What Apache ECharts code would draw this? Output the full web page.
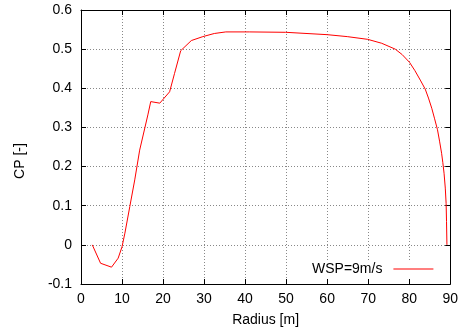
<!DOCTYPE html>
<html>
<head>
<meta charset="utf-8">
<script src="https://cdn.jsdelivr.net/npm/echarts@6/dist/echarts.min.js"></script>
<style>
  html, body { margin: 0; padding: 0; background: #fff; }
  #chart { width: 461px; height: 334px; }
</style>
</head>
<body>
<div id="chart"></div>
<script>
// Power coefficient along the blade span
const radius = [2.75, 4.77, 7.44, 9.06, 10.0, 10.7, 11.9, 13.1, 14.3, 16.3, 17.0, 19.2, 21.6, 22.8, 24.3, 26.9, 29.7, 32.5, 35.3, 41.0, 49.9, 60.0, 64.9, 69.9, 73.3, 76.6, 78.3, 80.1, 81.4, 82.7, 83.9, 84.7, 85.5, 86.2, 86.9, 87.4, 87.9, 88.2, 88.5, 88.8, 89.0, 89.1, 89.2];
const cp = [0, -0.047, -0.057, -0.034, -0.005, 0.03, 0.098, 0.166, 0.242, 0.332, 0.366, 0.362, 0.391, 0.438, 0.496, 0.522, 0.532, 0.540, 0.544, 0.544, 0.543, 0.537, 0.532, 0.525, 0.515, 0.500, 0.486, 0.466, 0.445, 0.421, 0.398, 0.375, 0.349, 0.322, 0.294, 0.265, 0.234, 0.210, 0.183, 0.145, 0.106, 0.060, 0.0];
const seriesName = 'WSP=9m/s';
const xTitle = 'Radius [m]';
const yTitle = 'CP [-]';

const FONT = "'Liberation Sans', Arial, Helvetica, sans-serif";
const points = radius.map((r, i) => [r, cp[i]]);

const gridLine = { show: true, lineStyle: { color: '#888', type: [1, 2], width: 1 } };
const frameLine = { show: true, onZero: false, lineStyle: { color: '#000', width: 1 } };
const innerTick = { show: true, inside: true, length: 5, lineStyle: { color: '#000' } };

const chart = echarts.init(document.getElementById('chart'), null, { renderer: 'canvas' });
chart.setOption({
  animation: false,
  backgroundColor: '#fff',
  grid: { left: 81, right: 9, top: 10, bottom: 50, containLabel: false },
  xAxis: [
    {
      type: 'value', position: 'bottom', min: 0, max: 90, interval: 10,
      axisLine: frameLine, axisTick: innerTick, splitLine: gridLine,
      axisLabel: { color: '#000', fontSize: 14, fontFamily: FONT, margin: 8 },
      name: xTitle, nameLocation: 'middle', nameGap: 29,
      nameTextStyle: { color: '#000', fontSize: 14, fontFamily: FONT }
    },
    {
      type: 'value', position: 'top', min: 0, max: 90, interval: 10,
      axisLine: frameLine, axisTick: innerTick, splitLine: { show: false },
      axisLabel: { show: false }
    }
  ],
  yAxis: [
    {
      type: 'value', position: 'left', min: -0.1, max: 0.6, interval: 0.1,
      axisLine: frameLine, axisTick: innerTick, splitLine: gridLine,
      axisLabel: {
        color: '#000', fontSize: 14, fontFamily: FONT, margin: 9,
        formatter: v => String(Math.round(v * 10) / 10)
      }
    },
    {
      type: 'value', position: 'right', min: -0.1, max: 0.6, interval: 0.1,
      axisLine: frameLine, axisTick: innerTick, splitLine: { show: false },
      axisLabel: { show: false }
    }
  ],
  legend: {
    data: [seriesName],
    left: 306, top: 260,
    padding: [2, 6, 2, 6],
    backgroundColor: '#fff',
    align: 'right',
    icon: 'rect',
    itemWidth: 40, itemHeight: 1,
    textStyle: { color: '#000', fontSize: 14, fontFamily: FONT, padding: [0, 6, 0, 0] }
  },
  graphic: [{
    type: 'text',
    x: 20, y: 161, rotation: Math.PI / 2,
    style: { text: yTitle, fill: '#000', font: '14px ' + FONT, align: 'center', verticalAlign: 'middle' }
  }],
  series: [{
    name: seriesName,
    type: 'line',
    data: points,
    showSymbol: false, symbol: 'none',
    lineStyle: { color: '#ff0000', width: 1 },
    itemStyle: { color: '#ff0000' }
  }]
});
</script>
</body>
</html>
